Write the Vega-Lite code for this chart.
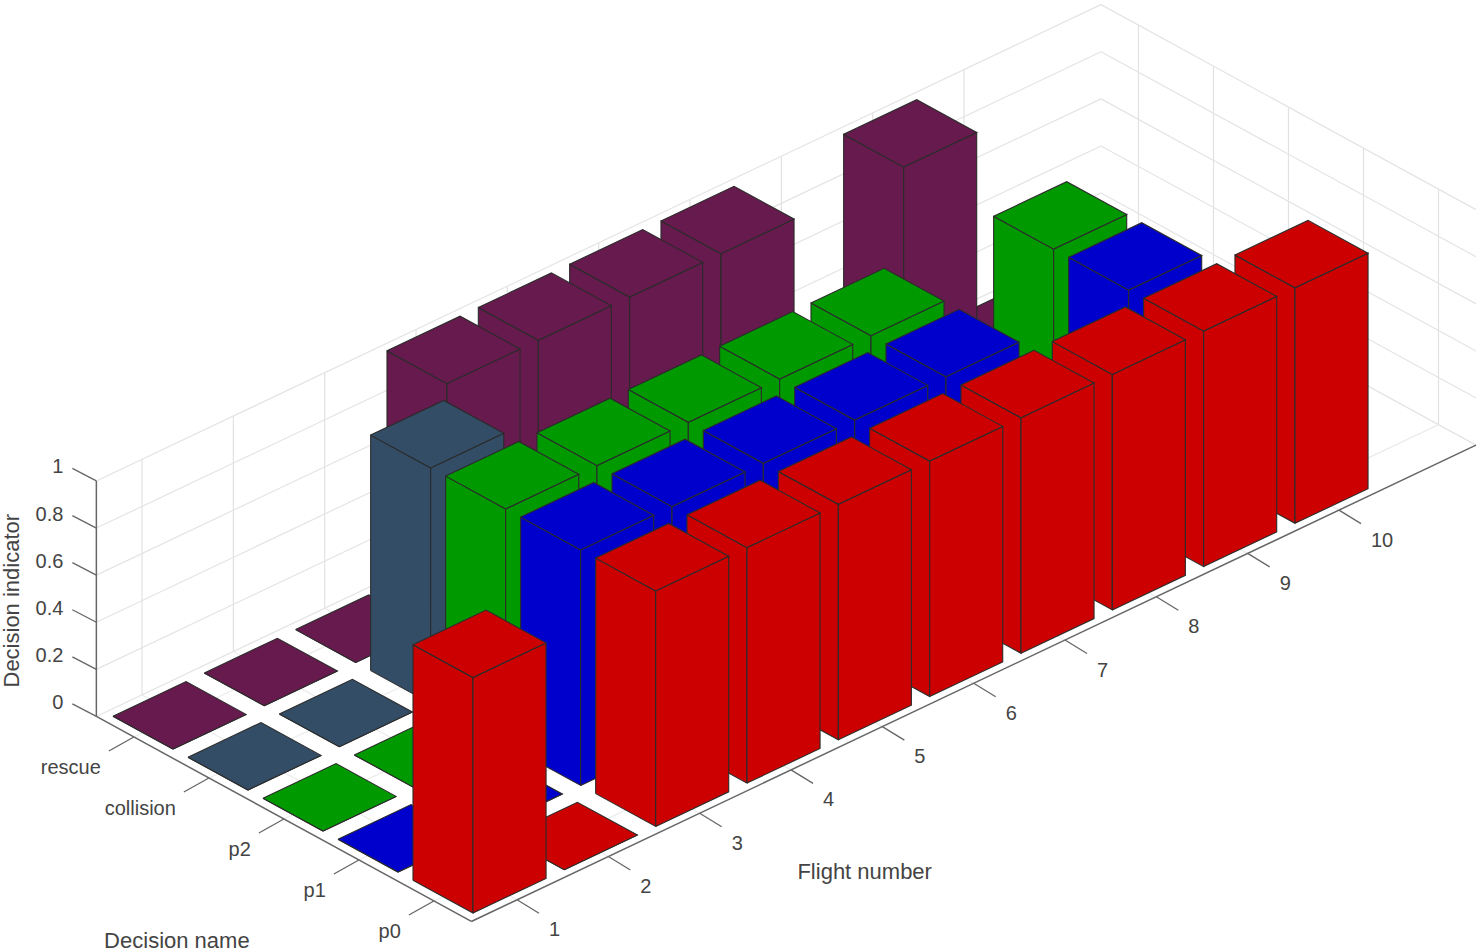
{
"$schema":"https://vega.github.io/schema/vega-lite/v6.json",
"width":1480,"height":952,"padding":0,
"autosize":{"type":"fit","contains":"padding"},
"background":"white",
"config":{"view":{"stroke":null}},
"datasets":{
"flights":[{"flight":1},{"flight":2},{"flight":3},{"flight":4},{"flight":5},{"flight":6},{"flight":7},{"flight":8},{"flight":9},{"flight":10}],
"decisions":[{"decision":"p0","idx":0},{"decision":"p1","idx":1},{"decision":"p2","idx":2},{"decision":"collision","idx":3},{"decision":"rescue","idx":4}],
"levels":[{"level":0},{"level":0.2},{"level":0.4},{"level":0.6},{"level":0.8},{"level":1}],
"bars":[
{"flight":10,"decision":"rescue","value":0},{"flight":9,"decision":"rescue","value":1},{"flight":8,"decision":"rescue","value":0},{"flight":7,"decision":"rescue","value":1},{"flight":6,"decision":"rescue","value":1},{"flight":5,"decision":"rescue","value":1},{"flight":4,"decision":"rescue","value":1},{"flight":3,"decision":"rescue","value":0},{"flight":2,"decision":"rescue","value":0},{"flight":1,"decision":"rescue","value":0},
{"flight":10,"decision":"collision","value":0},{"flight":9,"decision":"collision","value":0},{"flight":8,"decision":"collision","value":0},{"flight":7,"decision":"collision","value":0},{"flight":6,"decision":"collision","value":0},{"flight":5,"decision":"collision","value":0},{"flight":4,"decision":"collision","value":0},{"flight":3,"decision":"collision","value":1},{"flight":2,"decision":"collision","value":0},{"flight":1,"decision":"collision","value":0},
{"flight":10,"decision":"p2","value":0},{"flight":9,"decision":"p2","value":1},{"flight":8,"decision":"p2","value":0},{"flight":7,"decision":"p2","value":1},{"flight":6,"decision":"p2","value":1},{"flight":5,"decision":"p2","value":1},{"flight":4,"decision":"p2","value":1},{"flight":3,"decision":"p2","value":1},{"flight":2,"decision":"p2","value":0},{"flight":1,"decision":"p2","value":0},
{"flight":10,"decision":"p1","value":0},{"flight":9,"decision":"p1","value":1},{"flight":8,"decision":"p1","value":0},{"flight":7,"decision":"p1","value":1},{"flight":6,"decision":"p1","value":1},{"flight":5,"decision":"p1","value":1},{"flight":4,"decision":"p1","value":1},{"flight":3,"decision":"p1","value":1},{"flight":2,"decision":"p1","value":0},{"flight":1,"decision":"p1","value":0},
{"flight":10,"decision":"p0","value":1},{"flight":9,"decision":"p0","value":1},{"flight":8,"decision":"p0","value":1},{"flight":7,"decision":"p0","value":1},{"flight":6,"decision":"p0","value":1},{"flight":5,"decision":"p0","value":1},{"flight":4,"decision":"p0","value":1},{"flight":3,"decision":"p0","value":1},{"flight":2,"decision":"p0","value":0},{"flight":1,"decision":"p0","value":1}
]},
"encoding":{
"x":{"field":"px","type":"quantitative","scale":{"domain":[0,1480],"nice":false,"zero":false},"axis":null},
"y":{"field":"py","type":"quantitative","scale":{"domain":[952,0],"nice":false,"zero":false},"axis":null}
},
"layer":[
{"data":{"name":"flights"},"mark":{"type":"rule","stroke":"#e2e2e2","strokeWidth":1.2},
"transform":[
{"calculate":"388.2+91.33*datum.flight-75*4.5","as":"px"},{"calculate":"922.6-43.3*datum.flight-41*4.5","as":"py"},
{"calculate":"datum.px","as":"px2"},{"calculate":"datum.py-235.5","as":"py2"}],
"encoding":{"x2":{"field":"px2"},"y2":{"field":"py2"}}},
{"data":{"name":"flights"},"mark":{"type":"rule","stroke":"#ebebeb","strokeWidth":1.2},
"transform":[
{"calculate":"388.2+91.33*datum.flight-75*4.5","as":"px"},{"calculate":"922.6-43.3*datum.flight-41*4.5","as":"py"},
{"calculate":"388.2+91.33*datum.flight+75*0.5","as":"px2"},{"calculate":"922.6-43.3*datum.flight+41*0.5","as":"py2"}],
"encoding":{"x2":{"field":"px2"},"y2":{"field":"py2"}}},
{"data":{"name":"decisions"},"mark":{"type":"rule","stroke":"#e2e2e2","strokeWidth":1.2},
"transform":[
{"calculate":"388.2+91.33*11.5-75*datum.idx","as":"px"},{"calculate":"922.6-43.3*11.5-41*datum.idx","as":"py"},
{"calculate":"datum.px","as":"px2"},{"calculate":"datum.py-235.5","as":"py2"}],
"encoding":{"x2":{"field":"px2"},"y2":{"field":"py2"}}},
{"data":{"name":"decisions"},"mark":{"type":"rule","stroke":"#ebebeb","strokeWidth":1.2},
"transform":[
{"calculate":"388.2+91.33*11.5-75*datum.idx","as":"px"},{"calculate":"922.6-43.3*11.5-41*datum.idx","as":"py"},
{"calculate":"388.2+91.33*0.5-75*datum.idx","as":"px2"},{"calculate":"922.6-43.3*0.5-41*datum.idx","as":"py2"}],
"encoding":{"x2":{"field":"px2"},"y2":{"field":"py2"}}},
{"data":{"name":"levels"},"mark":{"type":"rule","stroke":"#e4e4e4","strokeWidth":1.2},
"transform":[
{"calculate":"388.2+91.33*0.5-75*4.5","as":"px"},{"calculate":"922.6-43.3*0.5-41*4.5-235.5*datum.level","as":"py"},
{"calculate":"388.2+91.33*11.5-75*4.5","as":"px2"},{"calculate":"922.6-43.3*11.5-41*4.5-235.5*datum.level","as":"py2"}],
"encoding":{"x2":{"field":"px2"},"y2":{"field":"py2"}}},
{"data":{"name":"levels"},"mark":{"type":"rule","stroke":"#e4e4e4","strokeWidth":1.2},
"transform":[
{"calculate":"388.2+91.33*11.5-75*4.5","as":"px"},{"calculate":"922.6-43.3*11.5-41*4.5-235.5*datum.level","as":"py"},
{"calculate":"388.2+91.33*11.5+75*0.5","as":"px2"},{"calculate":"922.6-43.3*11.5+41*0.5-235.5*datum.level","as":"py2"}],
"encoding":{"x2":{"field":"px2"},"y2":{"field":"py2"}}},
{"data":{"values":[{"edge":"flight"}]},"mark":{"type":"rule","stroke":"#666666","strokeWidth":1.5},
"transform":[
{"calculate":"388.2+91.33*0.5+75*0.5","as":"px"},{"calculate":"922.6-43.3*0.5+41*0.5","as":"py"},
{"calculate":"388.2+91.33*11.5+75*0.5","as":"px2"},{"calculate":"922.6-43.3*11.5+41*0.5","as":"py2"}],
"encoding":{"x2":{"field":"px2"},"y2":{"field":"py2"}}},
{"data":{"values":[{"edge":"decision"}]},"mark":{"type":"rule","stroke":"#666666","strokeWidth":1.5},
"transform":[
{"calculate":"388.2+91.33*0.5+75*0.5","as":"px"},{"calculate":"922.6-43.3*0.5+41*0.5","as":"py"},
{"calculate":"388.2+91.33*0.5-75*4.5","as":"px2"},{"calculate":"922.6-43.3*0.5-41*4.5","as":"py2"}],
"encoding":{"x2":{"field":"px2"},"y2":{"field":"py2"}}},
{"data":{"values":[{"edge":"indicator"}]},"mark":{"type":"rule","stroke":"#666666","strokeWidth":1.5},
"transform":[
{"calculate":"388.2+91.33*0.5-75*4.5","as":"px"},{"calculate":"922.6-43.3*0.5-41*4.5","as":"py"},
{"calculate":"datum.px","as":"px2"},{"calculate":"datum.py-235.5","as":"py2"}],
"encoding":{"x2":{"field":"px2"},"y2":{"field":"py2"}}},
{"data":{"name":"flights"},"mark":{"type":"rule","stroke":"#666666","strokeWidth":1.3},
"transform":[
{"calculate":"388.2+91.33*datum.flight+75*0.5","as":"px"},{"calculate":"922.6-43.3*datum.flight+41*0.5","as":"py"},
{"calculate":"datum.px+22","as":"px2"},{"calculate":"datum.py+13.5","as":"py2"}],
"encoding":{"x2":{"field":"px2"},"y2":{"field":"py2"}}},
{"data":{"name":"decisions"},"mark":{"type":"rule","stroke":"#666666","strokeWidth":1.3},
"transform":[
{"calculate":"388.2+91.33*0.5-75*datum.idx","as":"px"},{"calculate":"922.6-43.3*0.5-41*datum.idx","as":"py"},
{"calculate":"datum.px-25","as":"px2"},{"calculate":"datum.py+14","as":"py2"}],
"encoding":{"x2":{"field":"px2"},"y2":{"field":"py2"}}},
{"data":{"name":"levels"},"mark":{"type":"rule","stroke":"#666666","strokeWidth":1.3},
"transform":[
{"calculate":"388.2+91.33*0.5-75*4.5","as":"px"},{"calculate":"922.6-43.3*0.5-41*4.5-235.5*datum.level","as":"py"},
{"calculate":"datum.px-24","as":"px2"},{"calculate":"datum.py-12.5","as":"py2"}],
"encoding":{"x2":{"field":"px2"},"y2":{"field":"py2"}}},
{"data":{"name":"bars"},"mark":{"type":"line","stroke":"#2b2b2b","strokeWidth":1.1,"strokeJoin":"miter","interpolate":"linear"},
"transform":[
{"calculate":"indexof(['p0','p1','p2','collision','rescue'],datum.decision)","as":"idx"},
{"calculate":"[[0,0,-0.4,0.4,0],[0,1,-0.4,-0.4,0],[0,2,-0.4,-0.4,1],[0,3,-0.4,0.4,1],[0,4,-0.4,0.4,0],[1,0,-0.4,-0.4,0],[1,1,0.4,-0.4,0],[1,2,0.4,-0.4,1],[1,3,-0.4,-0.4,1],[1,4,-0.4,-0.4,0],[2,0,-0.4,0.4,1],[2,1,-0.4,-0.4,1],[2,2,0.4,-0.4,1],[2,3,0.4,0.4,1],[2,4,-0.4,0.4,1]]","as":"corner"},
{"flatten":["corner"]},
{"calculate":"datum.flight+'-'+datum.decision+'-'+datum.corner[0]","as":"faceKey"},
{"calculate":"datum.corner[1]","as":"vertex"},
{"calculate":"388.2+91.33*(datum.flight+datum.corner[2])-75*(datum.idx+datum.corner[3])","as":"px"},
{"calculate":"922.6-43.3*(datum.flight+datum.corner[2])-41*(datum.idx+datum.corner[3])-235.5*datum.corner[4]*datum.value","as":"py"}],
"encoding":{
"detail":{"field":"faceKey"},
"order":{"field":"vertex","type":"quantitative"},
"fill":{"field":"decision","type":"nominal","legend":null,"scale":{"domain":["p0","p1","p2","collision","rescue"],"range":["#CC0000","#0000CC","#009900","#334D66","#661A4D"]}}}},
{"data":{"name":"flights"},"mark":{"type":"text","font":"Liberation Sans","fontSize":20,"fill":"#444444","align":"left","baseline":"middle"},
"transform":[
{"calculate":"388.2+91.33*datum.flight+75*0.5+32","as":"px"},{"calculate":"922.6-43.3*datum.flight+41*0.5+30.5","as":"py"}],
"encoding":{"text":{"field":"flight","type":"nominal"}}},
{"data":{"name":"decisions"},"mark":{"type":"text","font":"Liberation Sans","fontSize":20,"fill":"#444444","align":"right","baseline":"middle"},
"transform":[
{"calculate":"388.2+91.33*0.5-75*datum.idx-33","as":"px"},{"calculate":"922.6-43.3*0.5-41*datum.idx+31.5","as":"py"}],
"encoding":{"text":{"field":"decision","type":"nominal"}}},
{"data":{"name":"levels"},"mark":{"type":"text","font":"Liberation Sans","fontSize":20,"fill":"#444444","align":"right","baseline":"middle"},
"transform":[
{"calculate":"388.2+91.33*0.5-75*4.5-33","as":"px"},{"calculate":"922.6-43.3*0.5-41*4.5-235.5*datum.level-13.5","as":"py"}],
"encoding":{"text":{"field":"level","type":"nominal"}}},
{"data":{"values":[{"title":"Flight number"}]},"mark":{"type":"text","font":"Liberation Sans","fontSize":22,"fill":"#444444","align":"center","baseline":"middle"},
"transform":[
{"calculate":"388.2+91.33*6+75*0.5-109","as":"px"},{"calculate":"922.6-43.3*6+41*0.5+188.5","as":"py"}],
"encoding":{"text":{"field":"title","type":"nominal"}}},
{"data":{"values":[{"title":"Decision name"}]},"mark":{"type":"text","font":"Liberation Sans","fontSize":22,"fill":"#444444","align":"center","baseline":"middle"},
"transform":[
{"calculate":"388.2+91.33*0.5-75*2-107","as":"px"},{"calculate":"922.6-43.3*0.5-41*2+122","as":"py"}],
"encoding":{"text":{"field":"title","type":"nominal"}}},
{"data":{"values":[{"title":"Decision indicator"}]},"mark":{"type":"text","font":"Liberation Sans","fontSize":22,"fill":"#444444","align":"center","baseline":"middle","angle":270},
"transform":[
{"calculate":"388.2+91.33*0.5-75*4.5-84","as":"px"},{"calculate":"922.6-43.3*0.5-41*4.5-235.5*0.5+2","as":"py"}],
"encoding":{"text":{"field":"title","type":"nominal"}}}
]
}
